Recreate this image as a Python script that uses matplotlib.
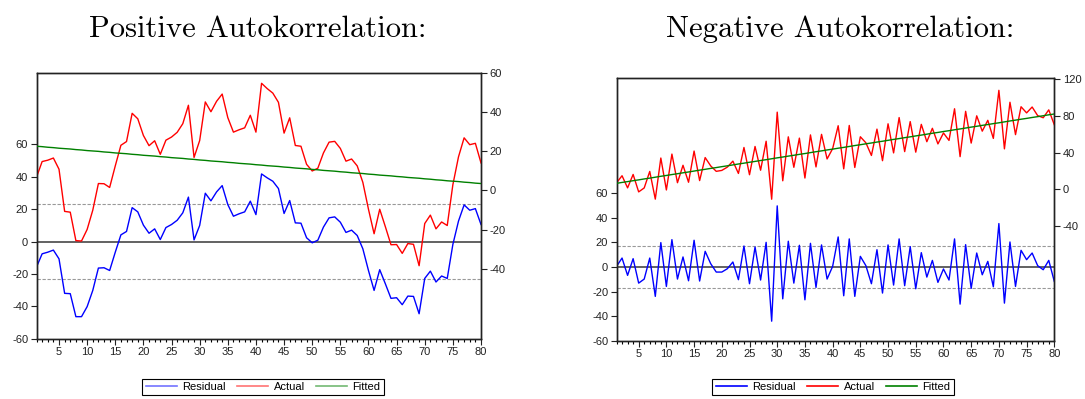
import matplotlib
matplotlib.use("Agg")
import matplotlib.pyplot as plt
from matplotlib.lines import Line2D

plt.rcParams['axes.unicode_minus'] = False
plt.rcParams['font.family'] = ['Liberation Sans', 'DejaVu Sans']

# ---------------- data ----------------
obs = list(range(1, 81))

pos_residual = [-15.8, -7.6, -6.6, -5.3, -10.7, -32.0, -32.2, -46.4, -46.4, -40.2,
                -30.2, -16.4, -16.2, -17.9, -6.6, 4.1, 6.2, 20.9, 18.3, 10.1,
                5.1, 7.8, 1.2, 8.6, 10.5, 13.1, 17.7, 27.4, 1.0, 9.9,
                29.8, 25.1, 30.6, 34.5, 22.8, 15.6, 17.1, 18.3, 24.9, 16.6,
                41.7, 39.3, 37.2, 32.7, 17.3, 25.3, 11.5, 11.3, 2.3, -0.8,
                0.8, 8.9, 14.6, 15.2, 11.9, 5.6, 7.0, 3.7, -4.5, -17.9,
                -30.2, -17.4, -26.1, -35.1, -34.7, -39.0, -33.7, -33.9, -44.6, -22.8,
                -18.3, -25.0, -21.3, -22.8, -1.8, 12.6, 22.6, 19.3, 20.3, 10.5]
pos_actual = [6.7, 14.7, 15.4, 16.5, 10.8, -10.7, -11.1, -25.6, -25.8, -19.9,
              -10.1, 3.5, 3.4, 1.5, 12.5, 23.0, 24.9, 39.3, 36.5, 28.0,
              22.8, 25.3, 18.4, 25.6, 27.2, 29.6, 34.0, 43.4, 16.8, 25.4,
              45.1, 40.1, 45.4, 49.1, 37.1, 29.7, 30.9, 31.9, 38.3, 29.7,
              54.6, 51.9, 49.6, 44.9, 29.2, 37.0, 22.9, 22.5, 13.3, 9.9,
              11.3, 19.1, 24.6, 25.0, 21.4, 14.9, 16.0, 12.5, 4.1, -9.6,
              -22.1, -9.6, -18.5, -27.7, -27.6, -32.1, -27.1, -27.5, -38.4, -16.9,
              -12.6, -19.6, -16.1, -17.9, 2.9, 17.1, 26.8, 23.3, 24.0, 14.0]
pos_fitted = [22.5, 22.3, 22.0, 21.8, 21.5, 21.3, 21.1, 20.8, 20.6, 20.3,
              20.1, 19.9, 19.6, 19.4, 19.1, 18.9, 18.7, 18.4, 18.2, 17.9,
              17.7, 17.5, 17.2, 17.0, 16.7, 16.5, 16.3, 16.0, 15.8, 15.5,
              15.3, 15.0, 14.8, 14.6, 14.3, 14.1, 13.8, 13.6, 13.4, 13.1,
              12.9, 12.6, 12.4, 12.2, 11.9, 11.7, 11.4, 11.2, 11.0, 10.7,
              10.5, 10.2, 10.0, 9.8, 9.5, 9.3, 9.0, 8.8, 8.6, 8.3,
              8.1, 7.8, 7.6, 7.4, 7.1, 6.9, 6.6, 6.4, 6.2, 5.9,
              5.7, 5.4, 5.2, 4.9, 4.7, 4.5, 4.2, 4.0, 3.7, 3.5]
pos_se = 23.0

neg_residual = [0.5, 7.3, -6.8, 6.8, -13.1, -9.8, 7.3, -23.9, 19.9, -15.8,
                22.3, -9.8, 8.2, -11.2, 21.8, -11.4, 12.8, 2.7, -4.1, -4.1,
                -1.4, 4.1, -10.3, 17.1, -13.6, 16.3, -10.6, 20.1, -44.1, 49.8,
                -25.9, 21.0, -13.1, 17.7, -26.7, 19.3, -16.6, 18.0, -9.8, 0.5,
                24.5, -23.4, 22.9, -23.9, 8.7, 1.1, -13.6, 14.1, -21.2, 18.0,
                -14.7, 22.9, -15.2, 16.6, -17.7, 11.7, -8.2, 5.4, -12.5, -1.6,
                -10.6, 22.9, -30.2, 18.2, -17.4, 11.4, -6.3, 4.6, -16.1, 35.4,
                -29.4, 20.4, -15.8, 13.6, 6.0, 11.4, 1.1, -2.2, 5.4, -11.7]
neg_actual = [7.0, 14.8, 1.6, 16.2, -2.8, 1.5, 19.5, -10.7, 34.1, -0.7,
              38.4, 7.2, 26.2, 7.7, 41.7, 9.5, 34.6, 25.5, 19.6, 20.6,
              24.2, 30.7, 17.3, 45.6, 15.9, 46.7, 20.8, 52.4, -10.8, 84.1,
              9.3, 57.2, 24.0, 55.8, 12.3, 59.3, 24.4, 59.9, 33.1, 44.3,
              69.3, 22.3, 69.6, 23.8, 57.3, 50.7, 36.9, 65.6, 31.2, 71.4,
              39.7, 78.2, 41.1, 73.8, 40.5, 70.8, 51.9, 66.5, 49.5, 61.4,
              53.3, 87.8, 35.6, 85.0, 50.4, 80.1, 63.4, 75.2, 55.5, 107.9,
              44.1, 94.9, 59.6, 90.0, 83.3, 89.7, 80.3, 78.0, 86.6, 70.4]
neg_fitted = [6.5, 7.5, 8.4, 9.4, 10.3, 11.3, 12.2, 13.2, 14.2, 15.1,
              16.1, 17.0, 18.0, 18.9, 19.9, 20.9, 21.8, 22.8, 23.7, 24.7,
              25.6, 26.6, 27.6, 28.5, 29.5, 30.4, 31.4, 32.3, 33.3, 34.3,
              35.2, 36.2, 37.1, 38.1, 39.0, 40.0, 41.0, 41.9, 42.9, 43.8,
              44.8, 45.7, 46.7, 47.7, 48.6, 49.6, 50.5, 51.5, 52.4, 53.4,
              54.4, 55.3, 56.3, 57.2, 58.2, 59.1, 60.1, 61.1, 62.0, 63.0,
              63.9, 64.9, 65.8, 66.8, 67.8, 68.7, 69.7, 70.6, 71.6, 72.5,
              73.5, 74.5, 75.4, 76.4, 77.3, 78.3, 79.2, 80.2, 81.2, 82.1]
neg_se = 17.4

x_ticks = [5, 10, 15, 20, 25, 30, 35, 40, 45, 50, 55, 60, 65, 70, 75, 80]
pos_left_ticks = [-60, -40, -20, 0, 20, 40, 60]
pos_right_ticks = [-40, -20, 0, 20, 40, 60]
neg_left_ticks = [-60, -40, -20, 0, 20, 40, 60]
neg_right_ticks = [-40, 0, 40, 80, 120]

titles = ["Positive Autokorrelation:", "Negative Autokorrelation:"]
legend_labels = ["Residual", "Actual", "Fitted"]

# ---------------- figure ----------------
W, H = 1085, 399
fig = plt.figure(figsize=(W / 100, H / 100), dpi=100)


def px_rect(x0, y0, x1, y1):
    return [x0 / W, 1 - y1 / H, (x1 - x0) / W, (y1 - y0) / H]


def panel(rect, resid, actual, fitted, se, lticks, rticks, lylim, rylim,
          legend_cx, legend_alpha):
    ax = fig.add_axes(rect)
    ax.axhline(0, color='#555555', lw=1.3, zorder=1)
    ax.axhline(se, color='#999999', lw=0.8, ls=(0, (3, 1.5)), zorder=1)
    ax.axhline(-se, color='#999999', lw=0.8, ls=(0, (3, 1.5)), zorder=1)
    ax.plot(obs, resid, color='#0000ff', lw=1.0, zorder=2)
    ax.set_xlim(1, 80)
    ax.set_ylim(*lylim)
    ax.set_yticks(lticks)
    ax.set_xticks(x_ticks)
    ax.set_xticks(obs, minor=True)
    ax.tick_params(axis='both', which='major', labelsize=8, length=4, width=0.8,
                   direction='out', pad=2, colors='#222222')
    ax.tick_params(axis='x', which='minor', length=2.5, width=0.8, direction='out')
    ax2 = ax.twinx()
    ax2.plot(obs, actual, color='#ff0000', lw=1.0, zorder=2)
    ax2.plot(obs, fitted, color='#008000', lw=1.0, zorder=3)
    ax2.set_ylim(*rylim)
    ax2.set_yticks(rticks)
    ax2.tick_params(axis='y', labelsize=8, length=4, width=0.8, direction='out',
                    pad=2, colors='#222222')
    for a in (ax, ax2):
        for s in a.spines.values():
            s.set_linewidth(1.0)
            s.set_color('#222222')
    handles = [Line2D([], [], color=c, lw=1.2, alpha=legend_alpha)
               for c in ('#0000ff', '#ff0000', '#008000')]
    leg = fig.legend(handles, legend_labels, loc='center', ncol=3,
                     bbox_to_anchor=(legend_cx / W, 1 - 387 / H), frameon=True,
                     fancybox=False, edgecolor='black', fontsize=8,
                     handlelength=2.8, columnspacing=1.0, handletextpad=0.5,
                     borderpad=0.3, framealpha=1)
    leg.get_frame().set_linewidth(0.8)
    return ax


panel(px_rect(36.5, 72.7, 481, 338.7), pos_residual, pos_actual, pos_fitted, pos_se,
      pos_left_ticks, pos_right_ticks, (-60, 104.2), (-75.6, 60), 263, 0.55)
panel(px_rect(616.5, 78.3, 1054.3, 340.7), neg_residual, neg_actual, neg_fitted, neg_se,
      neg_left_ticks, neg_right_ticks, (-60, 153.7), (-165, 121), 833, 1.0)

fig.text(258 / W, 1 - 29 / H, titles[0], family='cmr10', fontsize=22,
         ha='center', va='center')
fig.text(840 / W, 1 - 29 / H, titles[1], family='cmr10', fontsize=22,
         ha='center', va='center')

fig.savefig('out.png', dpi=100)
